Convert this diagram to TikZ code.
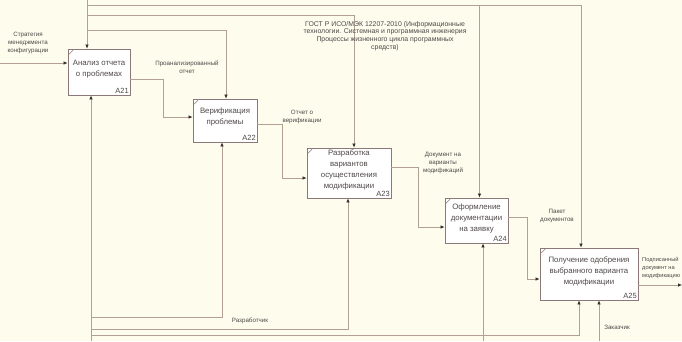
\documentclass[tikz,border=0pt]{standalone}
\usepackage{fontspec}
\setmainfont{Liberation Sans}
\usetikzlibrary{arrows.meta,calc}
\definecolor{bg}{RGB}{253,252,237}
\definecolor{ln}{RGB}{178,160,146}
\definecolor{bx}{RGB}{140,120,120}
\definecolor{tx}{RGB}{80,72,72}
\begin{document}
\begin{tikzpicture}[x=1pt,y=-1pt,
  box/.style={draw=bx, line width=0.8pt, fill=white, inner sep=0pt},
  conn/.style={draw=ln, line width=0.6pt, -{Latex[length=4pt,width=3.4pt,color=tx!60!black]}},
  plain/.style={draw=ln, line width=0.6pt},
  lbl/.style={text=tx, font=\fontsize{6.2}{8.2}\selectfont, align=center, inner sep=0pt},
  btxt/.style={text=tx, font=\fontsize{7.8}{11}\selectfont, align=center, inner sep=0pt},
  num/.style={text=tx, font=\fontsize{7.5}{9}\selectfont, anchor=south east, inner sep=1.5pt},
  tick/.style={draw=bx, line width=0.5pt}]
\fill[bg] (0,0) rectangle (682,341);
\useasboundingbox (0,0) rectangle (682,341);

% boxes
\node[box, minimum width=62pt, minimum height=46pt] (a21) at (99,72) {};
\node[box, minimum width=64pt, minimum height=43pt] (a22) at (225,120.5) {};
\node[box, minimum width=84pt, minimum height=50pt] (a23) at (349,173) {};
\node[box, minimum width=63pt, minimum height=45pt] (a24) at (476.5,220.5) {};
\node[box, minimum width=98pt, minimum height=52pt] (a25) at (589,274) {};

\foreach \b in {a21,a22,a23,a24,a25}{
  \draw[tick] ([shift={(1.5,5.5)}]\b.north west) -- ([shift={(5.5,1.5)}]\b.north west);
}

\node[btxt] (t21) at ([yshift=3pt]a21.center) {Анализ отчета\\о проблемах};
\node[btxt] (t22) at ([yshift=4pt]a22.center) {Верификация\\проблемы};
\node[btxt] (t23) at ([yshift=3.5pt]a23.center) {Разработка\\вариантов\\осуществления\\модификации};
\node[btxt] (t24) at ([yshift=2.5pt]a24.center) {Оформление\\документации\\на заявку};
\node[btxt] (t25) at ([yshift=3pt]a25.center) {Получение одобрения\\выбранного варианта\\модификации};

\node[num] (n21) at (a21.south east) {A21};
\node[num] (n22) at (a22.south east) {A22};
\node[num] (n23) at (a23.south east) {A23};
\node[num] (n24) at (a24.south east) {A24};
\node[num] (n25) at (a25.south east) {A25};

% input
\coordinate (in1) at (0,63);
\draw[conn] (in1) -- (in1 -| a21.west);
\node[lbl] (l1) at (28,43) {Стратегия\\менеджмента\\конфигурации};

% flows between boxes
\draw[conn] ([yshift=-7pt]a21.east) -- ++(33,0) |- ([yshift=3.5pt]a22.west);
\node[lbl] (l2) at (187,67) {Проанализированный\\отчет};
\draw[conn] ([yshift=-3.5pt]a22.east) -- ++(25,0) |- ([yshift=-5pt]a23.west);
\node[lbl] (l3) at (302,117) {Отчет о\\верификации};
\draw[conn] ([yshift=6pt]a23.east) -- ++(27,0) |- ([yshift=-6.5pt]a24.west);
\node[lbl] (l4) at (443,163) {Документ на\\варианты\\модификаций};
\draw[conn] ([yshift=3.5pt]a24.east) -- ++(19,0) |- ([yshift=-5pt]a25.west);
\node[lbl] (l5) at (557,216) {Пакет\\документов};

% output
\coordinate (out1) at (682,285);
\draw[conn] ([yshift=-11pt]a25.east) -- (out1);
\node[lbl, anchor=west, align=left, font=\fontsize{5.7}{7.8}\selectfont] (l6) at (642,268) {Подписанный\\документ на\\модификацию};

% controls (top)
\coordinate (ct0) at (87,0);
\coordinate (cj1) at (87,30);
\coordinate (cj2) at (87,15);
\coordinate (cj3) at (87,5);
\draw[conn] (ct0) -- ([xshift=-12pt]a21.north);
\draw[conn] (cj1) -| ([xshift=1pt]a22.north);
\draw[conn] (cj2) -| ([xshift=5pt]a23.north);
\draw[conn] (cj3) -| ([xshift=3pt]a24.north);
\draw[conn] (cj3) -| ([xshift=-8pt]a25.north);
\node[lbl, font=\fontsize{6.9}{7.7}\selectfont] (l7) at (385,36) {ГОСТ Р ИСО/МЭК 12207-2010 (Информационные\\технологии. Системная и программная инженерия\\Процессы жизненного цикла программных\\средств)};

% mechanisms (bottom)
\coordinate (mb0) at (91,341);
\coordinate (mj1) at (91,317);
\coordinate (mj2) at (91,329);
\coordinate (mj3) at (91,335);
\draw[conn] (mb0) -- ([xshift=-8pt]a21.south);
\draw[conn] (mj1) -| ([xshift=-3pt]a22.south);
\draw[conn] (mj2) -| ([xshift=-1pt]a23.south);
\draw[conn] (mj3) -| ([xshift=-10pt]a25.south);
\node[lbl] (l8) at (250,321) {Разработчик};

\coordinate (mb4) at (483,341);
\draw[conn] (mb4) -- ([xshift=6.5pt]a24.south);
\coordinate (mb5) at (599,341);
\draw[conn] (mb5) -- ([xshift=10pt]a25.south);
\node[lbl] (l9) at (617,327) {Заказчик};
\end{tikzpicture}
\end{document}
